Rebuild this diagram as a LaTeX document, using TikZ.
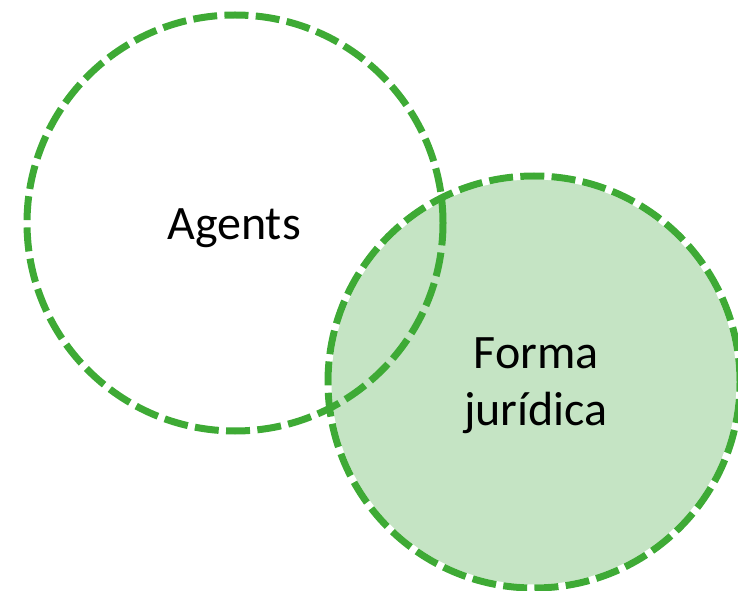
\documentclass[tikz,border=0pt]{standalone}
\usepackage{fontspec}
\setmainfont{Carlito}
\definecolor{vennline}{RGB}{62,170,53}
\definecolor{vennfill}{RGB}{197,228,196}
\tikzset{every picture/.style={line width=0.75pt}}
\tikzset{
  vennring/.style={circle, line width=5.25pt, dash pattern=on 18pt off 5.5pt, draw=vennline, minimum size=312pt, inner sep=0pt},
  vennlabel/.style={inner sep=0pt, align=center, font=\fontsize{36}{43}\selectfont},
}

\begin{document}
\begin{tikzpicture}[x=0.75pt,y=0.75pt,yscale=-1,xscale=1]
\useasboundingbox (0,0) rectangle (738,591);

%Shape: Circle (filled, under)
\draw [fill=vennfill, draw=white, line width=5.25pt] (534,382) circle [radius=206];
%Shape: Circle
\node [vennring, minimum size=309pt] (forma) at (534,382) {};
%Shape: Circle
\node [vennring] (agents) at (235,223) {};

% Text Node
\node [vennlabel] (agentslabel) at (234,228) {Agents};
% Text Node
\node [vennlabel] (formalabel) at (536,386) {Forma\\jurídica};

\end{tikzpicture}
\end{document}
